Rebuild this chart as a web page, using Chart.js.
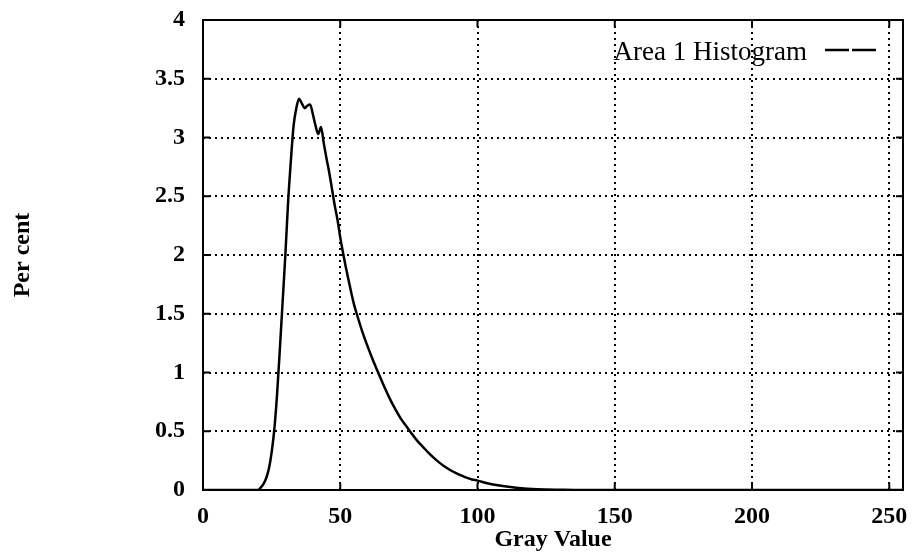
<!DOCTYPE html>
<html>
<head>
<meta charset="utf-8">
<script src="https://cdn.jsdelivr.net/npm/chart.js@4/dist/chart.umd.min.js"></script>
<style>
  body { margin: 0; background: #fff; }
  canvas { display: block; }
</style>
</head>
<body>
<canvas id="histChart" width="917" height="559"></canvas>
<script>
const grayValues = [0, 20, 21, 22, 23, 24, 25, 26, 27, 28, 29, 30, 31, 32, 33, 34, 35, 36, 37, 38, 39, 40,
    41, 42, 43, 44, 45, 46, 47, 48, 49, 50, 51, 52, 53, 54, 55, 56, 58, 60, 62, 64, 66, 68, 70, 72, 74, 76,
    78, 80, 82, 84, 86, 88, 90, 92, 94, 96, 98, 100, 104, 108, 112, 116, 120, 125, 130, 135, 255];
const percent = [0, 0, 0.02, 0.05, 0.1, 0.18, 0.32, 0.52, 0.82, 1.2, 1.6, 2.0, 2.45, 2.8, 3.1, 3.25, 3.33, 3.29, 3.25, 3.27, 3.28, 3.2,
    3.1, 3.03, 3.09, 2.95, 2.82, 2.7, 2.56, 2.42, 2.3, 2.15, 2.02, 1.9, 1.79, 1.68, 1.58, 1.5, 1.35, 1.22, 1.1, 0.99, 0.88, 0.78, 0.69, 0.61, 0.545, 0.48,
    0.42, 0.37, 0.32, 0.275, 0.235, 0.2, 0.17, 0.145, 0.125, 0.105, 0.09, 0.08, 0.055, 0.038, 0.025, 0.015, 0.008, 0.004, 0.002, 0, 0];

const xTicks = [0, 50, 100, 150, 200, 250];
const yTicks = [0, 0.5, 1, 1.5, 2, 2.5, 3, 3.5, 4];
const seriesLabel = 'Area 1 Histogram';

const points = grayValues.map((g, i) => ({ x: g, y: percent[i] }));

// gnuplot style box, inward tick marks and the key in the top right corner
const framePlugin = {
    id: 'frame',
    afterDraw(chart) {
        const { ctx, chartArea: a, scales } = chart;
        ctx.save();
        ctx.strokeStyle = '#000';
        ctx.lineWidth = 2;
        ctx.setLineDash([]);
        ctx.strokeRect(a.left, a.top, a.right - a.left, a.bottom - a.top);

        ctx.beginPath();
        xTicks.forEach(v => {
            const px = scales.x.getPixelForValue(v);
            ctx.moveTo(px, a.bottom); ctx.lineTo(px, a.bottom - 7);
            ctx.moveTo(px, a.top); ctx.lineTo(px, a.top + 7);
        });
        yTicks.forEach(v => {
            const py = scales.y.getPixelForValue(v);
            ctx.moveTo(a.left, py); ctx.lineTo(a.left + 7, py);
            ctx.moveTo(a.right, py); ctx.lineTo(a.right - 7, py);
        });
        ctx.stroke();

        // key
        ctx.font = '27px "Liberation Serif", serif';
        ctx.fillStyle = '#000';
        ctx.textAlign = 'right';
        ctx.textBaseline = 'alphabetic';
        ctx.fillText(seriesLabel, a.right - 96, a.top + 40);
        ctx.lineWidth = 2.5;
        ctx.setLineDash([24, 3]);
        ctx.beginPath();
        ctx.moveTo(a.right - 78, a.top + 30);
        ctx.lineTo(a.right - 26, a.top + 30);
        ctx.stroke();
        ctx.restore();
    }
};

const ctx = document.getElementById('histChart').getContext('2d');
new Chart(ctx, {
    type: 'line',
    data: {
        datasets: [{
            label: seriesLabel,
            data: points,
            borderColor: '#000',
            borderWidth: 2.5,
            pointRadius: 0,
            fill: false,
            cubicInterpolationMode: 'monotone'
        }]
    },
    options: {
        responsive: false,
        animation: false,
        devicePixelRatio: 1,
        layout: { padding: { left: 0, right: 14, top: 20, bottom: 0 } },
        plugins: {
            legend: { display: false },
            tooltip: { enabled: false }
        },
        scales: {
            x: {
                type: 'linear',
                min: 0,
                max: 255,
                afterFit: s => { s.height = 69; s.paddingLeft = 0; s.paddingRight = 0; },
                afterBuildTicks: s => { s.ticks = xTicks.map(v => ({ value: v })); },
                ticks: {
                    color: '#000',
                    padding: 12,
                    font: { family: '"Liberation Serif", serif', size: 24, weight: 'bold' },
                    callback: v => String(v)
                },
                grid: {
                    color: '#000',
                    lineWidth: 2,
                    drawTicks: false
                },
                border: { display: false, dash: [2, 4] },
                title: {
                    display: true,
                    text: 'Gray Value',
                    color: '#000',
                    padding: { top: 0, bottom: 5 },
                    font: { family: '"Liberation Serif", serif', size: 24, weight: 'bold' }
                }
            },
            y: {
                min: 0,
                max: 4,
                afterFit: s => { s.width = 203; s.paddingTop = 0; s.paddingBottom = 0; },
                afterBuildTicks: s => { s.ticks = yTicks.map(v => ({ value: v })); },
                ticks: {
                    color: '#000',
                    padding: 18,
                    font: { family: '"Liberation Serif", serif', size: 24, weight: 'bold' },
                    callback: v => String(v)
                },
                grid: {
                    color: '#000',
                    lineWidth: 2,
                    drawTicks: false
                },
                border: { display: false, dash: [2, 4] },
                title: {
                    display: true,
                    text: 'Per cent',
                    color: '#000',
                    padding: { top: 8, bottom: 0 },
                    font: { family: '"Liberation Serif", serif', size: 24, weight: 'bold' }
                }
            }
        }
    },
    plugins: [framePlugin]
});
</script>
</body>
</html>
